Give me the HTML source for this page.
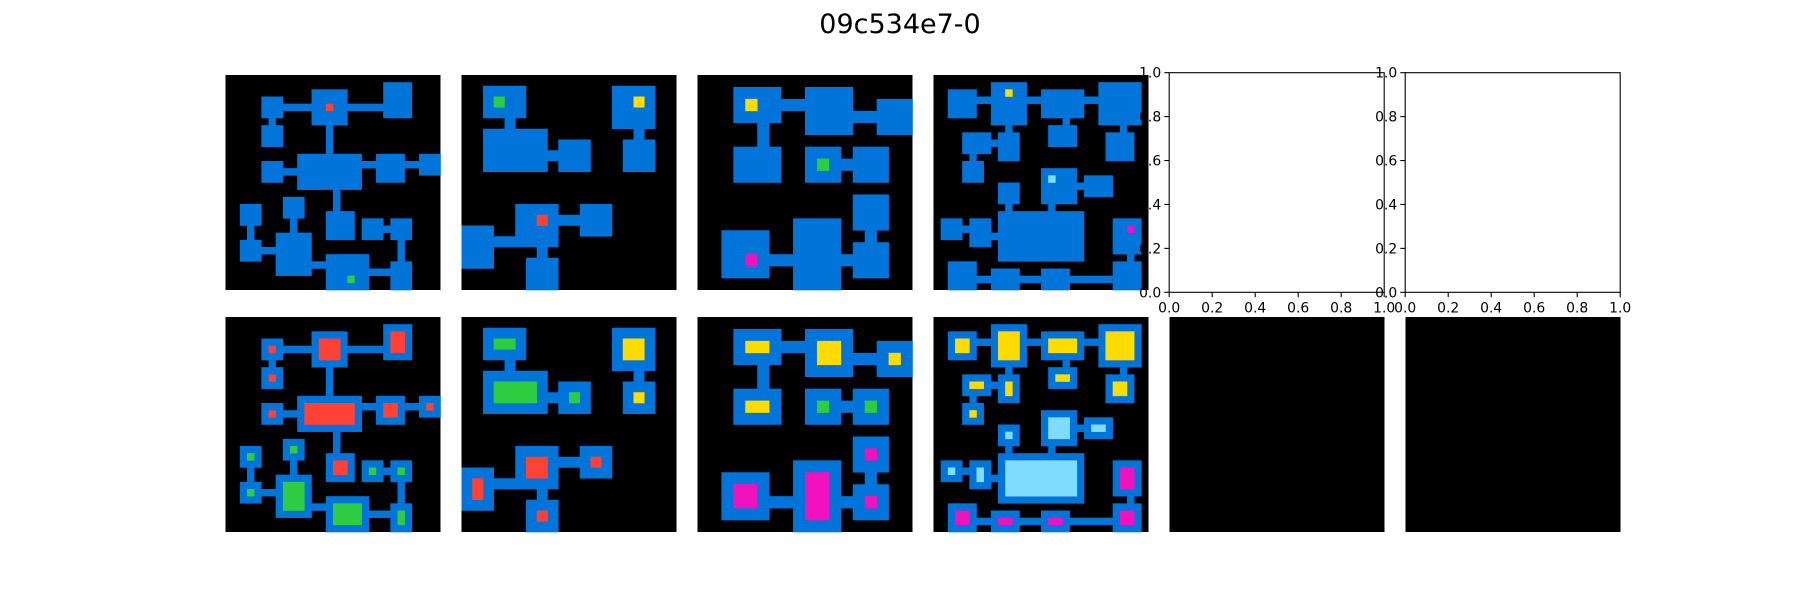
<!DOCTYPE html>
<html><head><meta charset="utf-8"><style>
html,body{margin:0;padding:0;background:#fff;}
svg{display:block;font-family:"DejaVu Sans","Liberation Sans",sans-serif;}
</style></head><body>
<svg id="fig" width="1800" height="600" viewBox="0 0 1800 600" xmlns="http://www.w3.org/2000/svg">
<text x="900" y="33" text-anchor="middle" font-size="27" fill="#000">09c534e7-0</text>
</svg>
<script>
const NS="http://www.w3.org/2000/svg";
const svg=document.getElementById('fig');
const COLORS={B:"#0074D9",R:"#FF4136",G:"#2ECC40",Y:"#FFDC00",M:"#F012BE",L:"#7FDBFF"};
// grid sizes
const gridSizes=[30,20,18,30];
// rooms: [c0,r0,c1,r1,fillColor] (inclusive cells)
const rooms1=[[5,3,7,5,"R"],[12,2,16,6,"R"],[22,1,25,5,"R"],[5,7,7,9,"R"],[10,11,18,15,"R"],[5,12,7,14,"R"],[21,11,24,14,"R"],[27,11,29,13,"R"],[14,19,17,22,"R"],[2,18,4,20,"G"],[8,17,10,19,"G"],[2,23,4,25,"G"],[7,22,11,27,"G"],[14,25,19,29,"G"],[19,20,21,22,"G"],[23,20,25,22,"G"],[23,26,25,29,"G"]];
const corr1=[[8,4,11,4],[17,4,21,4],[6,6,6,6],[14,7,14,10],[8,13,9,13],[19,12,20,12],[25,12,26,12],[15,16,15,18],[3,21,3,22],[9,20,9,21],[5,24,6,24],[12,26,13,26],[22,21,22,21],[24,23,24,25],[20,27,22,27]];
const marks1=[[14,4,"R"],[17,28,"G"]];
const rooms2=[[2,1,5,3,"G"],[2,5,7,8,"G"],[9,6,11,8,"G"],[14,1,17,4,"Y"],[15,6,17,8,"Y"],[5,12,8,15,"R"],[11,12,13,14,"R"],[0,14,2,17,"R"],[6,17,8,19,"R"]];
const corr2=[[4,4,4,4],[8,7,8,7],[16,5,16,5],[9,13,10,13],[3,15,4,15],[7,16,7,16]];
const marks2=[[3,2,"G"],[16,2,"Y"],[7,13,"R"]];
const rooms3=[[3,1,6,3,"Y"],[9,1,12,4,"Y"],[15,2,17,4,"Y"],[3,6,6,8,"Y"],[9,6,11,8,"G"],[13,6,15,8,"G"],[13,10,15,12,"M"],[13,14,15,16,"M"],[2,13,5,16,"M"],[8,12,11,17,"M"]];
const corr3=[[7,2,8,2],[13,3,14,3],[5,4,5,5],[12,7,12,7],[14,13,14,13],[6,15,7,15],[12,15,12,15]];
const marks3=[[4,2,"Y"],[10,7,"G"],[4,15,"M"]];
const rooms4=[[2,2,5,5,"Y"],[8,1,12,6,"Y"],[15,2,20,5,"Y"],[23,1,28,6,"Y"],[9,8,11,11,"Y"],[4,8,7,10,"Y"],[4,12,6,14,"Y"],[16,7,19,9,"Y"],[24,8,27,11,"Y"],[15,13,19,17,"L"],[21,14,24,16,"L"],[9,15,11,17,"L"],[9,19,20,25,"L"],[1,20,3,22,"L"],[5,20,7,23,"L"],[25,20,28,24,"M"],[25,26,28,29,"M"],[2,26,5,29,"M"],[8,27,11,29,"M"],[15,27,18,29,"M"]];
const corr4=[[6,3,7,3],[13,3,14,3],[21,3,22,3],[10,7,10,7],[8,9,8,9],[5,11,5,11],[18,6,18,6],[26,7,26,7],[20,15,20,15],[10,18,10,18],[16,18,16,18],[4,21,4,21],[8,22,8,22],[27,25,27,25],[6,28,7,28],[12,28,14,28],[19,28,24,28]];
const marks4=[[10,2,"Y"],[16,14,"L"],[27,21,"M"]];
const allRooms=[rooms1,rooms2,rooms3,rooms4];
const allCorr=[corr1,corr2,corr3,corr4];
const allMarks=[marks1,marks2,marks3,marks4];
const tickLabels=["0.0","0.2","0.4","0.6","0.8","1.0"];
const tickValues=[0,0.2,0.4,0.6,0.8,1.0];

const colX=[225.5,461.5,697.5,933.5,1169.5,1405.5];
const rowY=[75,317];
const PS=215;

function mk(tag,attrs,parent){const e=document.createElementNS(NS,tag);for(const k in attrs)e.setAttribute(k,attrs[k]);(parent||svg).appendChild(e);return e;}

function drawGrid(p,row,isOutput){
  const N=gridSizes[p],cs=PS/N,x0=colX[p],y0=rowY[row];
  const g=mk('g',{});
  
  
  const bg=mk('rect',{x:x0,y:y0,width:PS,height:PS,fill:"#000"},g);
  
  
  const rect=(c0,r0,c1,r1,col,name)=>{
    const r=mk('rect',{x:x0+c0*cs,y:y0+r0*cs,width:(c1-c0+1)*cs+0.3,height:(r1-r0+1)*cs+0.3,fill:COLORS[col]},g);
    
    
  };
  allCorr[p].forEach(c=>rect(c[0],c[1],c[2],c[3],"B",'corridor'));
  allRooms[p].forEach(r=>{
    rect(r[0],r[1],r[2],r[3],"B",'room');
    if(isOutput) rect(r[0]+1,r[1]+1,r[2]-1,r[3]-1,r[4],'room-fill');
  });
  if(!isOutput) allMarks[p].forEach(m=>rect(m[0],m[1],m[0],m[1],m[2],'marker-cell'));
}
for(let p=0;p<4;p++){drawGrid(p,0,false);drawGrid(p,1,true);}

// empty axes (top row, panels 5 and 6)
function drawEmptyAxes(i){
  const x0=colX[4+i]-0.3,x1=x0+215,y0=72.7,y1=292.3;
  const g=mk('g',{});
  
  
  const fr=mk('rect',{x:x0,y:y0,width:x1-x0,height:y1-y0,fill:"#fff",stroke:"#000","stroke-width":1.1},g);
  
  
  const sx=v=>x0+v*(x1-x0), sy=v=>y1-v*(y1-y0);
  tickValues.forEach((v,k)=>{
    mk('line',{x1:sx(v),y1:y1,x2:sx(v),y2:y1+4.9,stroke:"#000","stroke-width":1.1},g);
    const t=mk('text',{x:sx(v),y:y1+20,"text-anchor":"middle","font-size":13.9,fill:"#000"},g);
    t.textContent=tickLabels[k];
    
    
    mk('line',{x1:x0,y1:sy(v),x2:x0-4.9,y2:sy(v),stroke:"#000","stroke-width":1.1},g);
    const u=mk('text',{x:x0-8,y:sy(v)+5,"text-anchor":"end","font-size":13.9,fill:"#000"},g);
    u.textContent=tickLabels[k];
    
    
  });
}
drawEmptyAxes(0);drawEmptyAxes(1);
// black panels bottom row 5,6
for(let i=0;i<2;i++){
  const r=mk('rect',{x:colX[4+i],y:rowY[1],width:PS,height:PS,fill:"#000"});
  
  
}
</script>
</body></html>
